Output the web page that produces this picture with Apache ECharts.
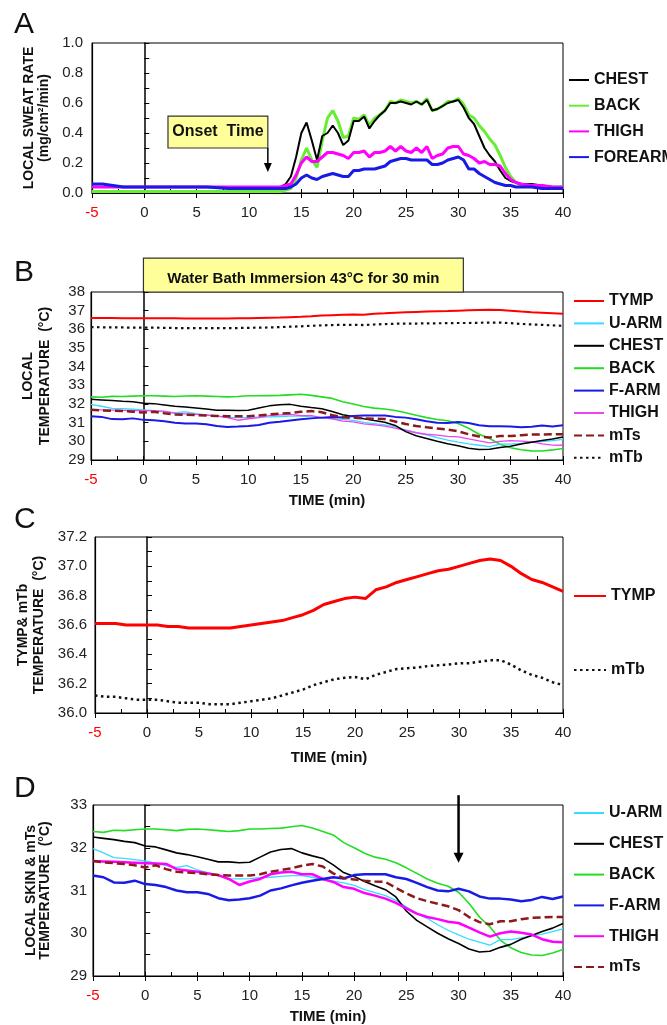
<!DOCTYPE html>
<html><head><meta charset="utf-8">
<script src="https://cdn.jsdelivr.net/npm/echarts@6/dist/echarts.min.js"></script>
<style>html,body{margin:0;padding:0;background:#fff;}#c{width:667px;height:1025px;}</style>
</head><body><div id="c"></div>
<script>
const FONT = "'Liberation Sans', Arial, Helvetica, sans-serif";

// ---------- Panel A : local sweat rate ----------
const timeA = [-5,-4,-3,-2,-1,0,2,4,6,8,10,12,
  13,13.5,14,14.5,15,15.5,16,16.5,17,17.5,
  18,18.5,19,19.5,20,20.5,21,21.5,22,22.5,
  23,23.5,24,24.5,25,25.5,26,26.5,27,27.5,
  28,28.5,29,29.5,30,30.5,31,31.5,32,32.5,
  33,33.5,34,34.5,35,35.5,36,37,38,39,40];
const chestA = [0.04,0.04,0.04,0.04,0.04,0.04,0.04,0.04,0.04,0.04,0.04,0.04,
  0.04,0.06,0.11,0.24,0.40,0.47,0.35,0.22,0.38,0.40,
  0.45,0.40,0.32,0.35,0.48,0.48,0.51,0.43,0.48,0.52,
  0.55,0.60,0.60,0.61,0.60,0.59,0.61,0.59,0.62,0.55,
  0.56,0.58,0.60,0.61,0.62,0.57,0.50,0.46,0.38,0.30,
  0.25,0.21,0.15,0.10,0.08,0.07,0.06,0.06,0.05,0.04,0.04];
const backA = [0.01,0.01,0.01,0.01,0.01,0.01,0.01,0.01,0.01,0.01,0.01,0.01,
  0.01,0.02,0.03,0.10,0.22,0.30,0.22,0.17,0.35,0.50,
  0.55,0.48,0.37,0.38,0.50,0.49,0.52,0.45,0.50,0.52,
  0.55,0.61,0.60,0.62,0.61,0.60,0.61,0.59,0.63,0.55,
  0.56,0.58,0.61,0.61,0.63,0.59,0.52,0.50,0.45,0.41,
  0.36,0.32,0.25,0.17,0.11,0.07,0.05,0.05,0.04,0.04,0.04];
const thighA = [0.04,0.04,0.04,0.04,0.04,0.04,0.04,0.04,0.04,0.04,0.04,0.04,
  0.04,0.05,0.06,0.12,0.20,0.24,0.21,0.21,0.24,0.27,
  0.27,0.26,0.25,0.23,0.27,0.27,0.28,0.24,0.27,0.27,
  0.28,0.31,0.28,0.31,0.28,0.27,0.30,0.27,0.31,0.23,
  0.25,0.26,0.30,0.31,0.31,0.26,0.25,0.23,0.20,0.21,
  0.19,0.19,0.18,0.13,0.09,0.07,0.06,0.05,0.05,0.04,0.04];
const forearmA = [0.06,0.06,0.05,0.04,0.04,0.04,0.04,0.04,0.04,0.03,0.03,0.03,
  0.03,0.03,0.04,0.06,0.10,0.12,0.10,0.09,0.11,0.12,
  0.13,0.12,0.11,0.11,0.15,0.15,0.16,0.16,0.16,0.17,
  0.18,0.21,0.22,0.23,0.23,0.22,0.22,0.22,0.22,0.19,
  0.19,0.20,0.22,0.23,0.24,0.22,0.16,0.16,0.13,0.11,
  0.09,0.07,0.06,0.05,0.05,0.04,0.04,0.04,0.03,0.03,0.03];

// ---------- Panels B, C, D : temperatures ----------
const timeT = [-5,-4,-3,-2,-1,0,1,2,3,4,5,6,7,8,9,10,11,12,13,14,15,16,17,18,19,20,
  21,22,23,24,25,26,27,28,29,30,31,32,33,34,35,36,37,38,39,40];
const tymp = [36.61,36.61,36.61,36.60,36.60,36.60,36.60,36.59,36.59,36.58,36.58,36.58,36.58,36.58,36.59,36.60,
  36.61,36.62,36.63,36.65,36.67,36.70,36.74,36.76,36.78,36.79,36.78,36.84,36.86,36.89,36.91,
  36.93,36.95,36.97,36.98,37.00,37.02,37.04,37.05,37.04,37.00,36.95,36.91,36.89,36.86,36.83];
const mtb = [36.12,36.11,36.11,36.10,36.09,36.09,36.09,36.08,36.07,36.07,36.07,36.06,36.06,36.06,36.07,36.08,
  36.09,36.10,36.12,36.14,36.16,36.19,36.21,36.23,36.24,36.245,36.23,36.26,36.28,36.30,36.305,
  36.31,36.32,36.325,36.33,36.34,36.34,36.35,36.36,36.36,36.33,36.29,36.26,36.24,36.21,36.19];
const uarm = [31.98,31.88,31.77,31.75,31.72,31.69,31.64,31.58,31.54,31.58,31.48,31.42,31.35,31.28,31.27,31.28,
  31.30,31.31,31.33,31.35,31.35,31.31,31.25,31.22,31.18,31.12,31.02,30.95,30.88,30.77,30.62,
  30.46,30.35,30.20,30.07,29.96,29.86,29.79,29.72,29.85,29.85,29.89,29.94,29.98,30.04,30.10];
const chest = [32.25,32.22,32.19,32.15,32.12,32.04,32.02,31.95,31.88,31.84,31.79,31.73,31.67,31.67,31.65,31.66,
  31.78,31.90,31.96,31.98,31.88,31.81,31.75,31.60,31.42,31.33,31.21,31.11,31.02,30.85,30.52,
  30.30,30.15,30.00,29.87,29.76,29.63,29.56,29.58,29.67,29.74,29.86,29.95,30.04,30.12,30.23];
const back = [32.38,32.36,32.41,32.40,32.42,32.44,32.44,32.42,32.40,32.43,32.44,32.42,32.40,32.38,32.40,32.44,
  32.44,32.45,32.46,32.49,32.52,32.46,32.38,32.30,32.12,32.00,31.87,31.78,31.73,31.65,31.53,
  31.40,31.27,31.17,31.10,30.96,30.70,30.38,30.15,29.84,29.66,29.55,29.49,29.48,29.54,29.62];
const farm = [31.35,31.31,31.19,31.18,31.23,31.15,31.13,31.08,31.00,30.96,30.96,30.92,30.82,30.77,30.79,30.82,
  30.88,31.00,31.05,31.12,31.18,31.23,31.27,31.31,31.28,31.36,31.38,31.38,31.38,31.31,31.27,
  31.18,31.08,31.00,30.98,31.04,30.98,30.86,30.81,30.81,30.79,30.75,30.78,30.85,30.80,30.86];
const thigh = [31.69,31.68,31.67,31.66,31.65,31.64,31.63,31.62,31.50,31.47,31.44,31.40,31.36,31.27,31.13,31.21,
  31.27,31.38,31.42,31.44,31.38,31.38,31.27,31.20,31.08,31.04,30.94,30.88,30.81,30.71,30.58,
  30.46,30.38,30.33,30.27,30.24,30.13,30.02,29.92,30.00,30.04,30.01,29.97,29.86,29.80,29.79];
const mts = [31.69,31.66,31.64,31.62,31.59,31.54,31.59,31.50,31.44,31.42,31.41,31.38,31.36,31.35,31.35,31.35,
  31.38,31.44,31.48,31.52,31.58,31.62,31.56,31.40,31.29,31.26,31.23,31.21,31.20,31.06,30.93,
  30.82,30.75,30.69,30.63,30.54,30.38,30.26,30.21,30.28,30.28,30.33,30.36,30.37,30.38,30.38];

// ---------- chart ----------
const chart = echarts.init(document.getElementById('c'), null, {renderer:'canvas'});

const grids = [
  {left:92, top:43, width:471, height:150},
  {left:91, top:292, width:472, height:168},
  {left:95, top:537, width:468, height:176},
  {left:93, top:805, width:470, height:173}
].map(g => Object.assign(g, {show:true, borderColor:'#000', borderWidth:1, backgroundColor:'rgba(0,0,0,0)'}));

function xPair(g, name, gap) {
  return [
    {gridIndex:g, type:'value', min:-5, max:40, interval:5, position:'bottom',
     axisLine:{onZero:false, lineStyle:{color:'#000', width:1.2}},
     axisTick:{show:true, length:5, lineStyle:{color:'#000'}},
     splitLine:{show:false},
     axisLabel:{margin:12, fontSize:15, fontFamily:FONT, color:(v)=> (Number(v)===-5 ? '#ff0000' : '#222')},
     name:name, nameLocation:'middle', nameGap:gap,
     nameTextStyle:{fontWeight:'bold', fontSize:15, color:'#111', fontFamily:FONT}},
    {gridIndex:g, type:'value', min:-5, max:40, interval:2.5, position:'bottom',
     axisLine:{show:false, onZero:false},
     axisTick:{show:true, inside:true, length:4, lineStyle:{color:'#000'}},
     axisLabel:{show:false}, splitLine:{show:false}}
  ];
}
function yPair(g, min, max, interval, tickInt, dec, name, gap, margin, lh) {
  return [
    {gridIndex:g, type:'value', min:min, max:max, interval:interval, position:'left',
     axisLine:{show:true, onZero:false, lineStyle:{color:'#000', width:1.2}},
     axisTick:{show:false}, splitLine:{show:false},
     axisLabel:{margin:margin, fontSize:15, color:'#222', fontFamily:FONT, formatter:(v)=>Number(v).toFixed(dec)},
     name:name, nameLocation:'middle', nameRotate:90, nameGap:gap,
     nameTextStyle:{fontWeight:'bold', fontSize:14, color:'#111', lineHeight:lh, fontFamily:FONT, align:'center'}},
    {gridIndex:g, type:'value', min:min, max:max, interval:tickInt, position:'left',
     axisLine:{show:true, onZero:true, lineStyle:{color:'#000', width:1.5}},
     axisTick:{show:true, inside:true, length:5, lineStyle:{color:'#000'}},
     axisLabel:{show:false}, splitLine:{show:false}}
  ];
}

const xAxes = [].concat(xPair(0,'',30), xPair(1,'TIME (min)',33), xPair(2,'TIME (min)',37), xPair(3,'TIME (min)',33));
const yAxes = [].concat(
  yPair(0, 0, 1, 0.2, 0.1, 1, 'LOCAL SWEAT RATE\n(mg/cm\u00B2/min)', 37, 9, 15),
  yPair(1, 29, 38, 1, 1, 0, 'LOCAL\nTEMPERATURE  (\u00B0C)', 37, 6, 17),
  yPair(2, 36.0, 37.2, 0.2, 0.1, 1, 'TYMP& mTb\nTEMPERATURE  (\u00B0C)', 43, 8, 16),
  yPair(3, 29, 33, 1, 0.5, 0, 'LOCAL SKIN & mTs\nTEMPERATURE  (\u00B0C)', 41, 6, 14)
);

function mk(g, prefix, name, xs, ys, color, width, type) {
  return {name: prefix + '|' + name, type:'line', xAxisIndex:2*g, yAxisIndex:2*g,
    data: xs.map((t,i)=>[t, ys[i]]), symbol:'none', showSymbol:false, smooth:false,
    lineStyle:{color:color, width:width, type:type || 'solid'}, itemStyle:{color:color},
    emphasis:{disabled:true}, silent:true};
}
const DOT = [2.5, 3.5], DASH = [8, 4];
const series = [
  mk(0,'A','BACK', timeA, backA, '#66ee33', 3),
  mk(0,'A','CHEST', timeA, chestA, '#000000', 2),
  mk(0,'A','THIGH', timeA, thighA, '#ff00ff', 3),
  mk(0,'A','FOREARM', timeA, forearmA, '#1a1ae6', 3),

  mk(1,'B','mTb', timeT, mtb, '#111111', 2.2, DOT),
  mk(1,'B','TYMP', timeT, tymp, '#ff0000', 2),
  mk(1,'B','BACK', timeT, back, '#22dd22', 1.6),
  mk(1,'B','U-ARM', timeT, uarm, '#33ddff', 1.3),
  mk(1,'B','THIGH', timeT, thigh, '#ee44ee', 1.3),
  mk(1,'B','CHEST', timeT, chest, '#000000', 1.5),
  mk(1,'B','F-ARM', timeT, farm, '#1a1ae6', 2),
  mk(1,'B','mTs', timeT, mts, '#8b1a1a', 2.5, DASH),

  mk(2,'C','TYMP', timeT, tymp, '#ff0000', 3),
  mk(2,'C','mTb', timeT, mtb, '#111111', 2.5, DOT),

  mk(3,'D','BACK', timeT, back, '#22dd22', 1.6),
  mk(3,'D','U-ARM', timeT, uarm, '#33ddff', 1.3),
  mk(3,'D','CHEST', timeT, chest, '#000000', 1.6),
  mk(3,'D','THIGH', timeT, thigh, '#ff00ff', 2.5),
  mk(3,'D','F-ARM', timeT, farm, '#1a1ae6', 2.5),
  mk(3,'D','mTs', timeT, mts, '#8b1a1a', 2.5, DASH)
];

function lg(left, top, w, gap, prefix, names) {
  return {left:left, top:top, orient:'vertical', itemWidth:w, itemHeight:14, itemGap:gap, padding:0,
    selectedMode:false, data: names.map(n=>prefix+'|'+n), formatter:(n)=>n.split('|')[1],
    itemStyle:{opacity:0},
    textStyle:{fontWeight:'bold', fontSize:16, color:'#111', fontFamily:FONT, lineHeight:14}};
}
const legends = [
  lg(568, 72, 20, 9.7, 'A', ['CHEST','BACK','THIGH','FOREARM']),
  lg(573, 293, 30, 6.4, 'B', ['TYMP','U-ARM','CHEST','BACK','F-ARM','THIGH','mTs','mTb']),
  lg(573, 588, 32, 58, 'C', ['TYMP','mTb']),
  lg(573, 805, 30, 14.8, 'D', ['U-ARM','CHEST','BACK','F-ARM','THIGH','mTs'])
];

chart.setOption({
  animation:false,
  backgroundColor:'#fff',
  textStyle:{fontFamily:FONT},
  grid: grids, xAxis: xAxes, yAxis: yAxes, legend: legends, series: series
});

// ---------- annotations (positioned through the axes' scales) ----------
function px(g, t, v) { return chart.convertToPixel({xAxisIndex:2*g, yAxisIndex:2*g}, [t, v]); }
function arrow(p0, p1, w, hw, hh) {
  return {type:'group', z:100, children:[
    {type:'line', shape:{x1:p0[0], y1:p0[1], x2:p1[0], y2:p1[1]-hh+1}, style:{stroke:'#000', lineWidth:w}},
    {type:'polygon', shape:{points:[[p1[0]-hw/2, p1[1]-hh],[p1[0]+hw/2, p1[1]-hh],[p1[0], p1[1]]]}, style:{fill:'#000'}}
  ]};
}
function box(a, b, text, fs, dy) {
  return {type:'group', z:90, children:[
    {type:'rect', shape:{x:a[0], y:a[1], width:b[0]-a[0], height:b[1]-a[1]},
     style:{fill:'#ffff99', stroke:'#333', lineWidth:1.2}},
    {type:'text', x:(a[0]+b[0])/2, y:(a[1]+b[1])/2 + (dy||0),
     style:{text:text, fill:'#111', font:'bold '+fs+'px '+FONT, textAlign:'center', textVerticalAlign:'middle'}}
  ]};
}
const onA = [px(0, 2.26, 0.513), px(0, 11.8, 0.30)];
const wbB = [px(1, 0, 39.82), px(1, 30.5, 38)];
const graphics = [
  box(onA[0], onA[1], 'Onset  Time', 16, 0),
  arrow(px(0, 11.8, 0.30), px(0, 11.8, 0.14), 1.5, 8, 9),
  box(wbB[0], wbB[1], 'Water Bath Immersion 43\u00B0C for 30 min', 15, 4),
  arrow(px(3, 30, 33.23), px(3, 30, 31.65), 2.5, 10, 10)
];
[['A',25],['B',273],['C',520],['D',789]].forEach(([l,y]) => {
  graphics.push({type:'text', x:14, y:y, z:100,
    style:{text:l, fill:'#111', font:'30px '+FONT, textVerticalAlign:'middle'}});
});
chart.setOption({graphic: graphics});
</script>
</body></html>
